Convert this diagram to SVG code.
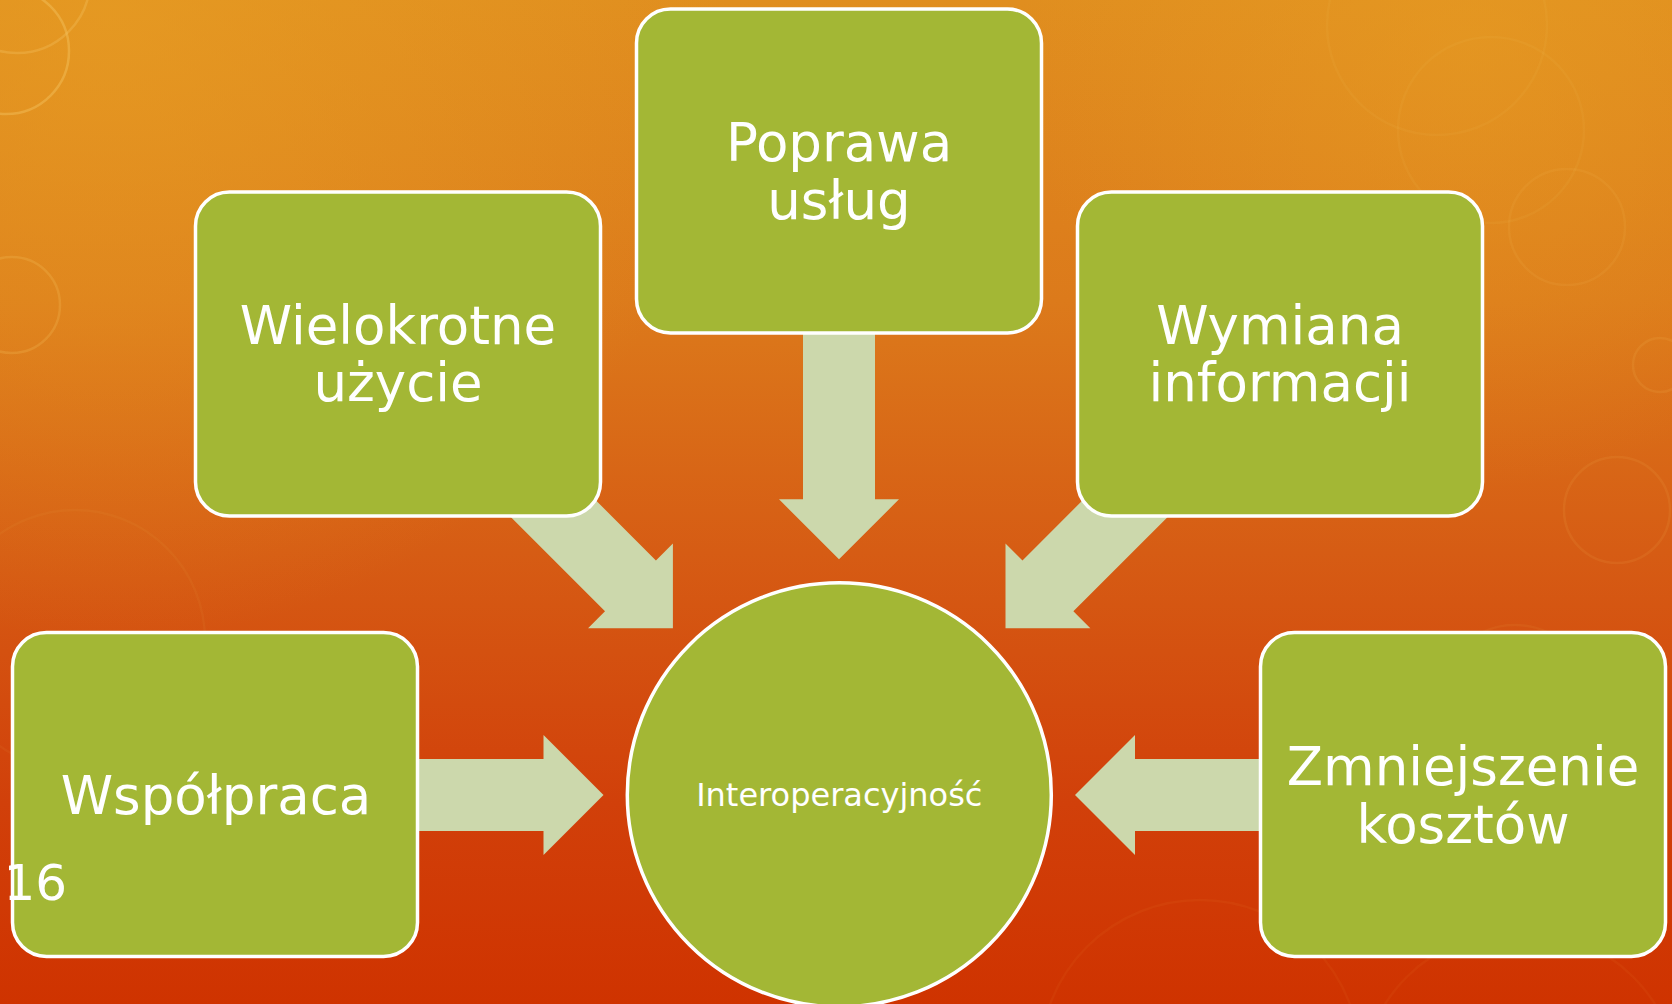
<svg xmlns="http://www.w3.org/2000/svg" xmlns:xlink="http://www.w3.org/1999/xlink" width="1672" height="1004" viewBox="0 0 1672 1004">
  <defs>
    <linearGradient id="bg" x1="0" y1="0" x2="0" y2="1">
      <stop offset="0" stop-color="#E08E1F"/>
      <stop offset="0.3" stop-color="#DC7A1B"/>
      <stop offset="0.55" stop-color="#D65C14"/>
      <stop offset="0.8" stop-color="#D1400A"/>
      <stop offset="1" stop-color="#CF3300"/>
    </linearGradient>
    <radialGradient id="glowTL" cx="110" cy="20" r="620" gradientUnits="userSpaceOnUse">
      <stop offset="0" stop-color="#E8A024" stop-opacity="0.6"/>
      <stop offset="1" stop-color="#E8A024" stop-opacity="0"/>
    </radialGradient>
    <radialGradient id="glowTR" cx="1470" cy="40" r="450" gradientUnits="userSpaceOnUse">
      <stop offset="0" stop-color="#E8A024" stop-opacity="0.5"/>
      <stop offset="1" stop-color="#E8A024" stop-opacity="0"/>
    </radialGradient>
    <path id="arr" d="M0,0 L-60,-60 L-60,-36 L-260,-36 L-260,36 L-60,36 L-60,60 Z"/>
    <style>
      .ring { fill: none; stroke: #F6C766; stroke-width: 2.5; }
      .node { fill: #A3B735; stroke: #FFFFFF; stroke-width: 3.5; }
      .lbl { font-family: "DejaVu Sans", Verdana, sans-serif; font-size: 53px; fill: #FFFFFF; text-anchor: middle; }
      .small { font-family: "DejaVu Sans", Verdana, sans-serif; font-size: 32px; fill: #FFFFFF; text-anchor: middle; }
      .arrow { fill: #CCD8AC; }
    </style>
  </defs>

  <g id="background">
    <rect x="0" y="0" width="1672" height="1004" fill="url(#bg)"/>
    <rect x="0" y="0" width="1672" height="1004" fill="url(#glowTL)"/>
    <rect x="0" y="0" width="1672" height="1004" fill="url(#glowTR)"/>
    <circle class="ring" cx="6" cy="51" r="63" opacity="0.4"/>
    <circle class="ring" cx="17" cy="-20" r="73" opacity="0.3"/>
    <circle class="ring" cx="12" cy="305" r="48" opacity="0.22"/>
    <circle class="ring" cx="75" cy="640" r="130" opacity="0.06"/>
    <circle class="ring" cx="1437" cy="25" r="110" opacity="0.08"/>
    <circle class="ring" cx="1491" cy="130" r="93" opacity="0.08"/>
    <circle class="ring" cx="1567" cy="227" r="58" opacity="0.1"/>
    <circle class="ring" cx="1660" cy="365" r="27" opacity="0.12"/>
    <circle class="ring" cx="1617" cy="510" r="53" opacity="0.1"/>
    <circle class="ring" cx="1515" cy="700" r="75" opacity="0.07"/>
    <circle class="ring" cx="1200" cy="1060" r="160" opacity="0.05"/>
    <circle class="ring" cx="1520" cy="1090" r="160" opacity="0.05"/>
  </g>

  <g id="connectors" class="arrow">
    <use xlink:href="#arr" href="#arr" transform="translate(839,559.3) rotate(90)"/>
    <use xlink:href="#arr" href="#arr" transform="translate(672.9,628.3) rotate(45)"/>
    <use xlink:href="#arr" href="#arr" transform="translate(1005.5,628.3) rotate(135)"/>
    <use xlink:href="#arr" href="#arr" transform="translate(603.5,795)"/>
    <use xlink:href="#arr" href="#arr" transform="translate(1075,795) rotate(180)"/>
  </g>

  <g id="node-poprawa">
    <rect class="node" x="636.5" y="9" width="405" height="324" rx="34" ry="34"/>
    <text class="lbl" x="839" y="161">Poprawa</text>
    <text class="lbl" x="839" y="219">usług</text>
  </g>

  <g id="node-wielokrotne">
    <rect class="node" x="195.5" y="192" width="405" height="324" rx="34" ry="34"/>
    <text class="lbl" x="398" y="344">Wielokrotne</text>
    <text class="lbl" x="398" y="401">użycie</text>
  </g>

  <g id="node-wymiana">
    <rect class="node" x="1077.5" y="192" width="405" height="324" rx="34" ry="34"/>
    <text class="lbl" x="1280" y="344">Wymiana</text>
    <text class="lbl" x="1280" y="401">informacji</text>
  </g>

  <g id="node-wspolpraca">
    <rect class="node" x="12.5" y="632.5" width="405" height="324" rx="34" ry="34"/>
    <text class="lbl" x="216" y="814">Współpraca</text>
  </g>

  <g id="node-zmniejszenie">
    <rect class="node" x="1260.5" y="632.5" width="405" height="324" rx="34" ry="34"/>
    <text class="lbl" x="1463" y="785">Zmniejszenie</text>
    <text class="lbl" x="1463" y="843">kosztów</text>
  </g>

  <g id="node-interoperacyjnosc">
    <circle class="node" cx="839.3" cy="794.8" r="212"/>
    <text class="small" x="839.3" y="806">Interoperacyjność</text>
  </g>

  <g id="slide-number">
    <text x="3.5" y="900" font-family="DejaVu Sans, Verdana, sans-serif" font-size="50" fill="#FFFFFF">16</text>
  </g>
</svg>
